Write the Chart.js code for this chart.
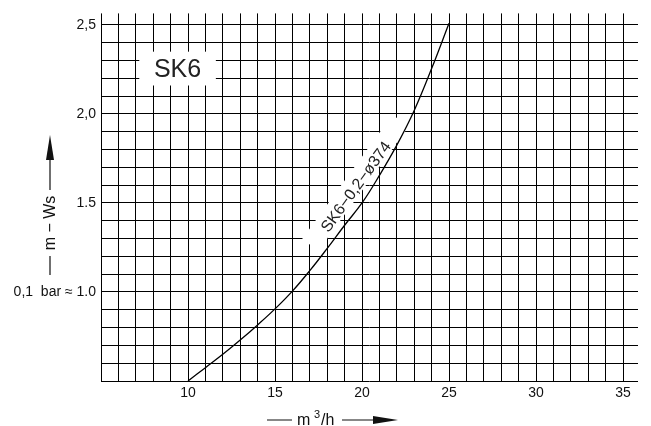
<!DOCTYPE html>
<html>
<head>
<meta charset="utf-8">
<script src="https://cdn.jsdelivr.net/npm/chart.js@4.4.1/dist/chart.umd.min.js"></script>
<style>
    html, body { margin: 0; padding: 0; background: #fff; }
</style>
</head>
<body>
<canvas id="myChart" width="651" height="426"></canvas>
<script>
// pump curve SK6 - flow (m3/h) vs head (m Ws)
const flowValues = [10, 11, 12, 13, 14, 15, 16, 17, 18, 19, 20, 21, 22, 23, 24, 25];
const headValues = [0.5, 0.575, 0.65, 0.73, 0.815, 0.905, 1.005, 1.12, 1.245, 1.375, 1.5, 1.655, 1.825, 2.02, 2.255, 2.51];

// grid ticks + which ones get a label
const gridX = [5, 6, 7, 8, 9, 10, 11, 12, 13, 14, 15, 16, 17, 18, 19, 20, 21, 22, 23, 24, 25, 26, 27, 28, 29, 30, 31, 32, 33, 34, 35];
const gridY = [0.5, 0.6, 0.7, 0.8, 0.9, 1.0, 1.1, 1.2, 1.3, 1.4, 1.5, 1.6, 1.7, 1.8, 1.9, 2.0, 2.1, 2.2, 2.3, 2.4, 2.5];
const xLabelValues = [10, 15, 20, 25, 30, 35];
const yLabelValues = [1.0, 1.5, 2.0, 2.5];
const yLabelTexts = ['0,1  bar \u2248 1.0', '1.5', '2,0', '2,5'];

const boxLabel = 'SK6';
const curveLabel = 'SK6\u22120,2\u2212\u00f8374';
const yTitle = 'm \u2212 Ws';

const FONT = 'Liberation Sans';
const LABEL_ANGLE = -54 * Math.PI / 180;

const decorPlugin = {
    id: 'decorPlugin',
    beforeDatasetsDraw(chart) {
        const { ctx } = chart;
        const { x, y } = chart.scales;
        ctx.save();
        ctx.fillStyle = '#fff';

        // white box behind SK6
        const bx0 = x.getPixelForValue(7.2), bx1 = x.getPixelForValue(11.6);
        const by0 = y.getPixelForValue(2.35), by1 = y.getPixelForValue(2.16);
        ctx.fillRect(bx0, by0, bx1 - bx0, by1 - by0);

        // white band behind the curve label
        ctx.font = '16px "' + FONT + '"';
        const w = ctx.measureText(curveLabel).width;
        ctx.translate(x.getPixelForValue(19.89), y.getPixelForValue(1.574));
        ctx.rotate(LABEL_ANGLE);
        ctx.fillRect(-w / 2 - 20, -18, w + 46, 20);
        ctx.restore();
    },
    afterDatasetsDraw(chart) {
        const { ctx } = chart;
        const { x, y } = chart.scales;
        ctx.save();
        ctx.fillStyle = '#222';

        ctx.font = '25px "' + FONT + '"';
        ctx.textAlign = 'center';
        ctx.textBaseline = 'middle';
        ctx.fillText(boxLabel, x.getPixelForValue(9.4), y.getPixelForValue(2.25) + 1);

        ctx.font = '16px "' + FONT + '"';
        ctx.textBaseline = 'alphabetic';
        ctx.save();
        ctx.translate(x.getPixelForValue(19.89), y.getPixelForValue(1.574));
        ctx.rotate(LABEL_ANGLE);
        ctx.fillText(curveLabel, 0, 0);
        ctx.restore();
        ctx.restore();
    },
    afterDraw(chart) {
        const { ctx } = chart;
        ctx.save();
        ctx.strokeStyle = '#111';
        ctx.fillStyle = '#111';
        ctx.lineWidth = 1.2;

        // y title: line, rotated text, line, arrow up
        ctx.beginPath();
        ctx.moveTo(50, 275); ctx.lineTo(50, 256);
        ctx.moveTo(50, 190); ctx.lineTo(50, 158);
        ctx.stroke();
        ctx.beginPath();
        ctx.moveTo(46, 160); ctx.lineTo(54, 160); ctx.lineTo(50, 135);
        ctx.closePath(); ctx.fill();

        ctx.save();
        ctx.translate(51, 223);
        ctx.rotate(-Math.PI / 2);
        ctx.font = '16px "' + FONT + '"';
        ctx.textAlign = 'center';
        ctx.textBaseline = 'middle';
        ctx.fillText(yTitle, 0, 0);
        ctx.restore();

        // x title: line, m^3/h, line, arrow right
        ctx.beginPath();
        ctx.moveTo(267, 420); ctx.lineTo(292, 420);
        ctx.moveTo(342, 420); ctx.lineTo(375, 420);
        ctx.stroke();
        ctx.beginPath();
        ctx.moveTo(373, 416); ctx.lineTo(373, 424); ctx.lineTo(398, 420);
        ctx.closePath(); ctx.fill();

        ctx.textAlign = 'left';
        ctx.textBaseline = 'alphabetic';
        ctx.font = '16px "' + FONT + '"';
        ctx.fillText('m', 297, 425);
        ctx.font = '11px "' + FONT + '"';
        ctx.fillText('3', 314, 418);
        ctx.font = '16px "' + FONT + '"';
        ctx.fillText('/h', 321, 425);
        ctx.restore();
    }
};

const ctx1 = document.querySelector('#myChart').getContext('2d');

new Chart(ctx1, {
    type: 'line',
    data: {
        datasets: [{
            data: flowValues.map((v, i) => ({ x: v, y: headValues[i] })),
            borderColor: '#000',
            borderWidth: 1.3,
            pointRadius: 0,
            fill: false,
            tension: 0.4
        }]
    },
    options: {
        responsive: false,
        animation: false,
        layout: { padding: { top: 12, right: 13, left: 0, bottom: 0 } },
        plugins: {
            legend: { display: false },
            tooltip: { enabled: false }
        },
        scales: {
            x: {
                type: 'linear',
                min: 5,
                max: 35.86,
                afterBuildTicks: s => { s.ticks = gridX.map(v => ({ value: v })); },
                afterFit: s => { s.height = 45; },
                grid: { color: '#000', lineWidth: 1, drawTicks: false },
                border: { display: false },
                ticks: {
                    autoSkip: false,
                    maxRotation: 0,
                    padding: 4,
                    color: '#111',
                    font: { family: FONT, size: 14 },
                    callback: v => xLabelValues.includes(v) ? String(v) : ''
                }
            },
            y: {
                type: 'linear',
                min: 0.5,
                max: 2.565,
                afterBuildTicks: s => { s.ticks = gridY.map(v => ({ value: v })); },
                afterFit: s => { s.width = 101; },
                grid: { color: '#000', lineWidth: 1, drawTicks: false },
                border: { display: false },
                ticks: {
                    autoSkip: false,
                    padding: 5,
                    color: '#111',
                    font: { family: FONT, size: 14 },
                    callback: v => {
                        const i = yLabelValues.findIndex(l => Math.abs(l - v) < 1e-6);
                        return i < 0 ? '' : yLabelTexts[i];
                    }
                }
            }
        }
    },
    plugins: [decorPlugin]
});
</script>
</body>
</html>
